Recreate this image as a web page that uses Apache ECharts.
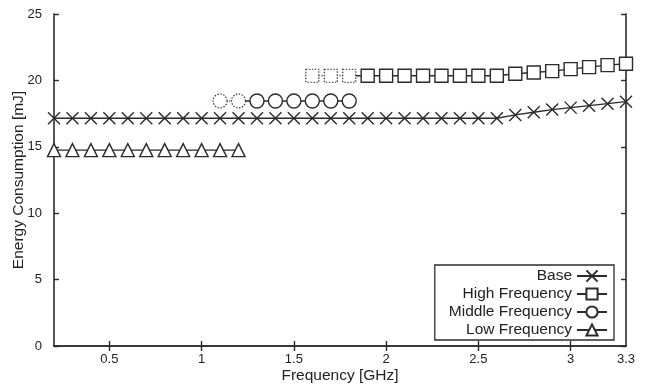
<!DOCTYPE html>
<html>
<head>
<meta charset="utf-8">
<script src="https://cdn.jsdelivr.net/npm/echarts@6/dist/echarts.min.js"></script>
<style>
  html, body { margin: 0; padding: 0; background: #fff; }
  #chart { width: 645px; height: 385px; }
</style>
</head>
<body>
<div id="chart"></div>
<script>
// Energy consumption vs. CPU frequency for four DVFS policies
const baseFreq = [0.2, 0.3, 0.4, 0.5, 0.6, 0.7, 0.8, 0.9, 1.0, 1.1, 1.2, 1.3, 1.4, 1.5, 1.6, 1.7,
                  1.8, 1.9, 2.0, 2.1, 2.2, 2.3, 2.4, 2.5, 2.6, 2.7, 2.8, 2.9, 3.0, 3.1, 3.2, 3.3];
const baseEnergy = [17.15, 17.15, 17.15, 17.15, 17.15, 17.15, 17.15, 17.15, 17.15, 17.15, 17.15,
                    17.15, 17.15, 17.15, 17.15, 17.15, 17.15, 17.15, 17.15, 17.15, 17.15, 17.15,
                    17.15, 17.15, 17.15, 17.4, 17.6, 17.8, 17.95, 18.1, 18.25, 18.4];

// High-frequency policy: first three points are unreachable settings (dotted)
const highFreq = [1.6, 1.7, 1.8, 1.9, 2.0, 2.1, 2.2, 2.3, 2.4, 2.5, 2.6, 2.7, 2.8, 2.9, 3.0, 3.1, 3.2, 3.3];
const highEnergy = [20.35, 20.35, 20.35, 20.35, 20.35, 20.35, 20.35, 20.35, 20.35, 20.35, 20.35,
                    20.5, 20.6, 20.7, 20.85, 21.0, 21.15, 21.25];
const highDottedCount = 3;

// Middle-frequency policy: first two points dotted
const midFreq = [1.1, 1.2, 1.3, 1.4, 1.5, 1.6, 1.7, 1.8];
const midEnergy = [18.45, 18.45, 18.45, 18.45, 18.45, 18.45, 18.45, 18.45];
const midDottedCount = 2;

const lowFreq = [0.2, 0.3, 0.4, 0.5, 0.6, 0.7, 0.8, 0.9, 1.0, 1.1, 1.2];
const lowEnergy = [14.75, 14.75, 14.75, 14.75, 14.75, 14.75, 14.75, 14.75, 14.75, 14.75, 14.75];

const xTickValues = [0.5, 1, 1.5, 2, 2.5, 3];
const xLabelValues = [0.5, 1, 1.5, 2, 2.5, 3, 3.3];
const seriesNames = ['Base', 'High Frequency', 'Middle Frequency', 'Low Frequency'];

const INK = '#2b2b2b';
const FONT = '"Liberation Sans", Arial, Helvetica, sans-serif';
const CROSS = 'path://M0,0L10,10M10,0L0,10';

const pairs = (xs, ys) => xs.map((x, i) => [x, ys[i]]);

function solidSeries(name, symbol, size, xs, ys, skipFirst) {
  const data = pairs(xs, ys).map((p, i) => (i === 0 && skipFirst) ? { value: p, symbol: 'none' } : p);
  return {
    name, type: 'line', data, symbol, symbolSize: size, clip: false,
    lineStyle: { color: INK, width: 1.4 },
    itemStyle: { color: '#fff', borderColor: INK, borderWidth: 1.4 },
    emphasis: { disabled: true }, z: 2
  };
}

function dottedSeries(name, symbol, size, xs, ys, count) {
  return {
    name, type: 'line', data: pairs(xs.slice(0, count), ys.slice(0, count)),
    symbol, symbolSize: size, clip: false,
    lineStyle: { color: '#333', width: 1.2, type: [1.5, 1.5] },
    itemStyle: { color: '#fff', borderColor: '#333', borderWidth: 1.2, borderType: [1.5, 1.5] },
    emphasis: { disabled: true }, z: 3
  };
}

const axisLine = { show: true, lineStyle: { color: INK, width: 1.6 } };
const tickInside = (vals) => ({ show: true, inside: true, length: 5, lineStyle: { color: INK, width: 1.4 },
  ...(vals ? { customValues: vals } : {}) });

const chart = echarts.init(document.getElementById('chart'), null, { renderer: 'canvas' });
chart.setOption({
  animation: false,
  backgroundColor: '#fff',
  grid: { left: 54, right: 19, top: 14, bottom: 39, outerBoundsMode: 'none', containLabel: false },
  legend: {
    data: seriesNames,
    orient: 'vertical', align: 'right',
    right: 31, top: 265,
    itemWidth: 30, itemHeight: 14, itemGap: 2,
    padding: [3, 6, 2, 14],
    borderColor: INK, borderWidth: 1.3, backgroundColor: '#fff',
    textStyle: { fontFamily: FONT, fontSize: 15.5, color: '#222' },
    selectedMode: false
  },
  xAxis: [{
    type: 'value', min: 0.2, max: 3.3, position: 'bottom',
    name: 'Frequency [GHz]', nameLocation: 'middle', nameGap: 22, nameMoveOverlap: false,
    nameTextStyle: { fontFamily: FONT, fontSize: 15.5, color: '#222' },
    axisLine, axisTick: tickInside(xTickValues),
    axisLabel: { customValues: xLabelValues, fontFamily: FONT, fontSize: 13, color: '#222', margin: 7,
                 formatter: v => String(v) },
    splitLine: { show: false }
  }, {
    type: 'value', min: 0.2, max: 3.3, position: 'top',
    axisLine, axisTick: tickInside(xTickValues),
    axisLabel: { show: false }, splitLine: { show: false }
  }],
  yAxis: [{
    type: 'value', min: 0, max: 25, interval: 5, position: 'left',
    name: 'Energy Consumption [mJ]', nameLocation: 'middle', nameGap: 27, nameMoveOverlap: false,
    nameTextStyle: { fontFamily: FONT, fontSize: 15.5, color: '#222' },
    axisLine, axisTick: tickInside(),
    axisLabel: { fontFamily: FONT, fontSize: 13, color: '#222', margin: 12 },
    splitLine: { show: false }
  }, {
    type: 'value', min: 0, max: 25, interval: 5, position: 'right',
    axisLine, axisTick: tickInside(),
    axisLabel: { show: false }, splitLine: { show: false }
  }],
  series: [
    solidSeries('Base', CROSS, 12, baseFreq, baseEnergy, false),
    solidSeries('High Frequency', 'rect', 13, highFreq.slice(highDottedCount - 1), highEnergy.slice(highDottedCount - 1), true),
    solidSeries('Middle Frequency', 'circle', 14, midFreq.slice(midDottedCount - 1), midEnergy.slice(midDottedCount - 1), true),
    solidSeries('Low Frequency', 'triangle', 13, lowFreq, lowEnergy, false),
    dottedSeries('High Frequency (unavailable)', 'rect', 13, highFreq, highEnergy, highDottedCount),
    dottedSeries('Middle Frequency (unavailable)', 'circle', 14, midFreq, midEnergy, midDottedCount)
  ]
});
</script>
</body>
</html>
